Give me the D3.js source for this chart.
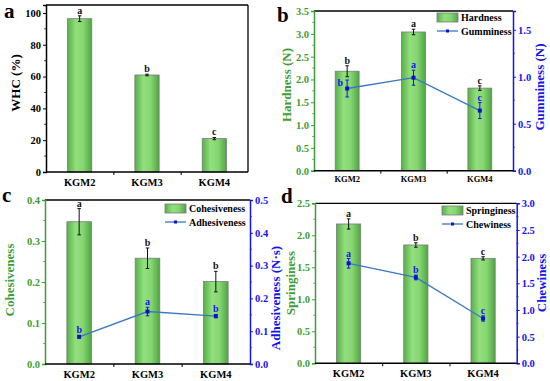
<!DOCTYPE html>
<html>
<head>
<meta charset="utf-8">
<script src="https://cdn.jsdelivr.net/npm/d3@7"></script>
<style>
  body{margin:0;background:#fff;}
  svg{display:block;}
  text{font-family:"Liberation Serif","Times New Roman",serif;font-weight:bold;}
</style>
</head>
<body>
<svg id="chart" width="550" height="381"></svg>
<script>
// data
const groups=['KGM2','KGM3','KGM4'];

const whc=[96.4,61.0,21.0];
const whc_err=[1.8,0.5,0.7];
const whc_sig=['a','b','c'];

const hardness=[2.18,3.04,1.81];
const hardness_err=[0.12,0.06,0.05];
const hardness_sig=['b','a','c'];
const gumminess=[0.875,0.99,0.64];
const gumminess_err=[0.09,0.08,0.085];
const gumminess_sig=['b','a','c'];

const cohesiveness=[0.347,0.258,0.201];
const cohesiveness_err=[0.032,0.025,0.025];
const cohesiveness_sig=['a','b','b'];
const adhesiveness=[0.083,0.16,0.146];
const adhesiveness_err=[0.004,0.013,0.005];
const adhesiveness_sig=['b','a','b'];

const springiness=[2.177,1.849,1.64];
const springiness_err=[0.08,0.035,0.025];
const springiness_sig=['a','b','c'];
const chewiness=[1.875,1.61,0.84];
const chewiness_err=[0.09,0.045,0.05];
const chewiness_sig=['a','b','c'];

const green='#3c9e36';
const blue='#1414f0';
const line_col='#3a78c0';

const svg=d3.select('#chart');

const defs=svg.append('defs');
const grad=defs.append('linearGradient').attr('id','bar-grad')
    .attr('x1','0%').attr('x2','100%').attr('y1','0%').attr('y2','0%');
grad.append('stop').attr('offset','0%').attr('stop-color','#58b04a');
grad.append('stop').attr('offset','35%').attr('stop-color','#92df7e');
grad.append('stop').attr('offset','65%').attr('stop-color','#86d672');
grad.append('stop').attr('offset','100%').attr('stop-color','#4fa543');

const panels=[
    {
        letter:'a',letter_pos:[4,18],
        box:{l:46,r:248,t:5,b:172},
        left:{domain:[0,105],ticks:[0,20,40,60,80,100],minor:10,fmt:d3.format('d'),title:'WHC (%)',color:'#000',title_x:17,title_y:83,title_size:13},
        bars:whc,bars_err:whc_err,bars_sig:whc_sig,
        xfont:10.5,xlab_y:186
    },
    {
        letter:'b',letter_pos:[277,22],
        box:{l:314,r:513,t:11,b:170.7},
        left:{domain:[0,3.5],ticks:d3.range(0,3.51,0.5),minor:0.25,fmt:d3.format('.1f'),title:'Hardness (N)',color:green,title_x:288,title_y:85,title_size:13},
        right:{domain:[0,1.7],ticks:[0,0.5,1.0,1.5],minor:0.25,fmt:d3.format('.1f'),title:'Gumminess (N)',color:blue,title_x:541,title_y:87,title_size:13},
        bars:hardness,bars_err:hardness_err,bars_sig:hardness_sig,
        line:gumminess,line_err:gumminess_err,line_sig:gumminess_sig,
        sig_side:[true,false,false],
        legend:['Hardness','Gumminess'],legend_pos:[437,13],
        xfont:8.5,xlab_y:182
    },
    {
        letter:'c',letter_pos:[2,202],
        box:{l:45,r:250,t:200,b:364},
        left:{domain:[0,0.4],ticks:d3.range(0,0.41,0.1),minor:0.05,fmt:d3.format('.1f'),title:'Cohesiveness',color:green,title_x:11,title_y:280,title_size:13},
        right:{domain:[0,0.5],ticks:d3.range(0,0.51,0.1),minor:0.05,fmt:d3.format('.1f'),title:'Adhesiveness (N·s)',color:blue,title_x:277,title_y:298,title_size:13},
        bars:cohesiveness,bars_err:cohesiveness_err,bars_sig:cohesiveness_sig,
        line:adhesiveness,line_err:adhesiveness_err,line_sig:adhesiveness_sig,
        legend:['Cohesiveness','Adhesiveness'],legend_pos:[165,204],
        xfont:10.5,xlab_y:378
    },
    {
        letter:'d',letter_pos:[281,203],
        box:{l:315,r:516.7,t:203.3,b:363.3},
        left:{domain:[0,2.5],ticks:d3.range(0,2.51,0.5),minor:0.25,fmt:d3.format('.1f'),title:'Springiness',color:green,title_x:292,title_y:283,title_size:13},
        right:{domain:[0,3.0],ticks:d3.range(0,3.01,0.5),minor:0.25,fmt:d3.format('.1f'),title:'Chewiness',color:blue,title_x:543,title_y:283,title_size:13},
        bars:springiness,bars_err:springiness_err,bars_sig:springiness_sig,
        line:chewiness,line_err:chewiness_err,line_sig:chewiness_sig,
        legend:['Springiness','Chewiness'],legend_pos:[442,206],
        xfont:10.5,xlab_y:377
    }
];

panels.forEach(draw_panel);

function draw_panel(p){
    const g=svg.append('g');
    const b=p.box;
    const x=d3.scalePoint().domain(groups).range([b.l,b.r]).padding(0.5);
    const step=x.step();
    const bw=step*0.36;
    const yl=d3.scaleLinear().domain(p.left.domain).range([b.b,b.t]);
    const yr=p.right?d3.scaleLinear().domain(p.right.domain).range([b.b,b.t]):null;

    // bars
    g.selectAll('rect.bar').data(p.bars).join('rect')
        .attr('class','bar')
        .attr('x',(d,i)=>x(groups[i])-bw/2)
        .attr('width',bw)
        .attr('y',d=>yl(d))
        .attr('height',d=>yl(0)-yl(d))
        .attr('fill','url(#bar-grad)')
        .attr('stroke','#7c7c7c')
        .attr('stroke-width',0.8);

    err_bars(g,p.bars,p.bars_err,x,yl,'#111',3.5);
    g.selectAll('text.sig-bar').data(p.bars_sig).join('text')
        .attr('class','sig-bar')
        .attr('x',(d,i)=>x(groups[i]))
        .attr('y',(d,i)=>yl(p.bars[i]+p.bars_err[i])-2)
        .attr('text-anchor','middle')
        .attr('font-size',10)
        .attr('fill','#111')
        .text(d=>d);

    // line series on right axis
    if(p.line){
        const line=d3.line().x((d,i)=>x(groups[i])).y(d=>yr(d));
        g.append('path').datum(p.line)
            .attr('d',line)
            .attr('fill','none')
            .attr('stroke',line_col)
            .attr('stroke-width',1.3);
        err_bars(g,p.line,p.line_err,x,yr,blue,3.5);
        g.selectAll('rect.pt').data(p.line).join('rect')
            .attr('class','pt')
            .attr('x',(d,i)=>x(groups[i])-2)
            .attr('y',d=>yr(d)-2)
            .attr('width',4).attr('height',4)
            .attr('fill','#1010c8');
        g.selectAll('text.sig-line').data(p.line_sig).join('text')
            .attr('class','sig-line')
            .attr('x',(d,i)=>p.sig_side&&p.sig_side[i]?x(groups[i])-7:x(groups[i]))
            .attr('y',(d,i)=>p.sig_side&&p.sig_side[i]?yr(p.line[i])-3:yr(p.line[i]+p.line_err[i])-2)
            .attr('text-anchor','middle')
            .attr('font-size',10)
            .attr('fill',blue)
            .text(d=>d);
    }

    // frame top
    g.append('line').attr('x1',b.l).attr('x2',b.r).attr('y1',b.t).attr('y2',b.t)
        .attr('stroke','#000').attr('stroke-width',1.3);

    // left axis
    minor_ticks(g,yl,p.left,b.l,-1);
    const ax_l=g.append('g').attr('transform',`translate(${b.l},0)`)
        .call(d3.axisLeft(yl).tickValues(p.left.ticks).tickFormat(p.left.fmt).tickSize(3).tickPadding(2));
    style_axis(ax_l,p.left.color,10.5);

    // right side
    if(yr){
        minor_ticks(g,yr,p.right,b.r,1);
        const ax_r=g.append('g').attr('transform',`translate(${b.r},0)`)
            .call(d3.axisRight(yr).tickValues(p.right.ticks).tickFormat(p.right.fmt).tickSize(3).tickPadding(2));
        style_axis(ax_r,p.right.color,10.5);
    }else{
        g.append('line').attr('x1',b.r).attr('x2',b.r).attr('y1',b.t).attr('y2',b.b)
            .attr('stroke','#000').attr('stroke-width',1.3);
    }

    // bottom axis: ticks sit between the categories
    const bounds=groups.slice(1).map(d=>x(d)-step/2);
    const ax_b=g.append('g').attr('transform',`translate(0,${b.b})`)
        .call(d3.axisBottom(d3.scaleLinear().domain([b.l,b.r]).range([b.l,b.r]))
            .tickValues(bounds).tickSize(3).tickFormat(''));
    ax_b.select('.domain').attr('stroke','#000').attr('stroke-width',1.5)
        .attr('d',`M${b.l},0H${b.r}`);
    ax_b.selectAll('.tick line').attr('stroke','#000').attr('stroke-width',1);
    g.selectAll('text.xlab').data(groups).join('text')
        .attr('class','xlab')
        .attr('x',d=>x(d)).attr('y',p.xlab_y)
        .attr('text-anchor','middle')
        .attr('font-size',p.xfont)
        .attr('fill','#000')
        .text(d=>d);

    // titles
    axis_title(g,p.left);
    if(p.right) axis_title(g,p.right);

    // panel letter
    g.append('text').attr('x',p.letter_pos[0]).attr('y',p.letter_pos[1])
        .attr('font-size',21).attr('fill','#000').text(p.letter);

    if(p.legend) draw_legend(g,p);
}

function minor_ticks(g,y,a,x0,dir){
    const vals=d3.range(a.domain[0]+a.minor,a.domain[1]+1e-9,a.minor*2);
    g.append('g').selectAll('line').data(vals).join('line')
        .attr('x1',x0).attr('x2',x0+dir*1.8)
        .attr('y1',d=>y(d)).attr('y2',d=>y(d))
        .attr('stroke',a.color).attr('stroke-width',0.8);
}

function err_bars(g,vals,errs,x,y,col,cap){
    const sel=g.append('g');
    vals.forEach((v,i)=>{
        const cx=x(groups[i]);
        const y1=y(v+errs[i]),y2=y(v-errs[i]);
        sel.append('line').attr('x1',cx).attr('x2',cx).attr('y1',y1).attr('y2',y2)
            .attr('stroke',col).attr('stroke-width',1);
        [y1,y2].forEach(yy=>{
            sel.append('line').attr('x1',cx-cap/2).attr('x2',cx+cap/2).attr('y1',yy).attr('y2',yy)
                .attr('stroke',col).attr('stroke-width',1);
        });
    });
}

function style_axis(ax,col,size){
    ax.select('.domain').attr('stroke',col).attr('stroke-width',1.5);
    ax.selectAll('.tick line').attr('stroke',col).attr('stroke-width',1);
    ax.selectAll('.tick text')
        .attr('fill',col)
        .attr('font-size',size)
        .attr('font-family','"Liberation Serif",serif')
        .attr('font-weight','bold');
}

function axis_title(g,a){
    g.append('text')
        .attr('transform',`translate(${a.title_x},${a.title_y}) rotate(-90)`)
        .attr('text-anchor','middle')
        .attr('dominant-baseline','middle')
        .attr('font-size',a.title_size)
        .attr('fill',a.color)
        .text(a.title);
}

function draw_legend(g,p){
    const [lx,ly]=p.legend_pos;
    g.append('rect').attr('x',lx).attr('y',ly).attr('width',21).attr('height',9)
        .attr('fill','url(#bar-grad)').attr('stroke','#7c7c7c').attr('stroke-width',0.8);
    g.append('text').attr('x',lx+24).attr('y',ly+8).attr('font-size',10).attr('fill','#000').text(p.legend[0]);
    const yy=ly+18;
    g.append('line').attr('x1',lx).attr('x2',lx+21).attr('y1',yy).attr('y2',yy)
        .attr('stroke',line_col).attr('stroke-width',1.3);
    g.append('rect').attr('x',lx+9).attr('y',yy-1.5).attr('width',3).attr('height',3).attr('fill','#1010c8');
    g.append('text').attr('x',lx+24).attr('y',yy+3.5).attr('font-size',10).attr('fill','#000').text(p.legend[1]);
}
</script>
</body>
</html>
